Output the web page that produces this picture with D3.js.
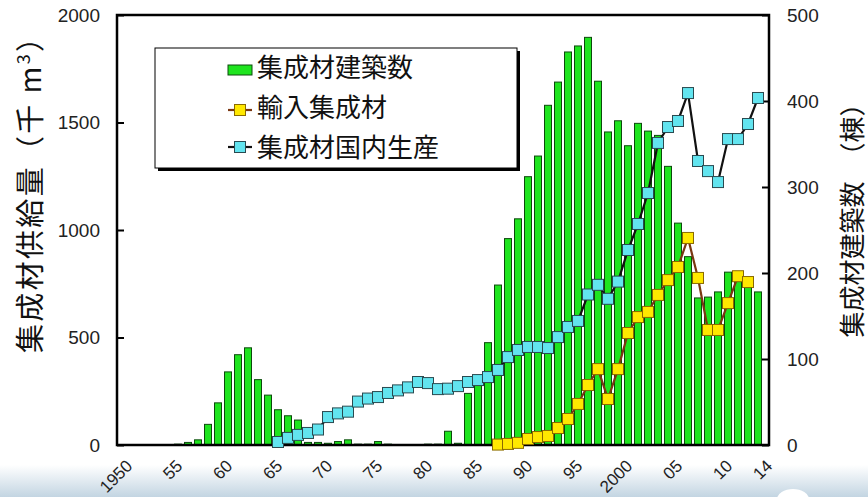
<!DOCTYPE html>
<html>
<head>
<meta charset="utf-8">
<script src="https://cdn.jsdelivr.net/npm/d3@7/dist/d3.min.js"></script>
<style>
  body { margin: 0; background: #fff; }
  svg { display: block; }
</style>
</head>
<body>
<script>
// data =======================================

var years = [1950, 1951, 1952, 1953, 1954, 1955, 1956, 1957, 1958, 1959,
             1960, 1961, 1962, 1963, 1964, 1965, 1966, 1967, 1968, 1969,
             1970, 1971, 1972, 1973, 1974, 1975, 1976, 1977, 1978, 1979,
             1980, 1981, 1982, 1983, 1984, 1985, 1986, 1987, 1988, 1989,
             1990, 1991, 1992, 1993, 1994, 1995, 1996, 1997, 1998, 1999,
             2000, 2001, 2002, 2003, 2004, 2005, 2006, 2007, 2008, 2009,
             2010, 2011, 2012, 2013];

// 集成材建築数 (棟) - right axis
var buildings = [0, 0, 0, 0, 0, 1, 3, 6, 24, 49,
                 85, 105, 113, 76, 58, 41, 34, 29, 3, 3,
                 2, 4, 6, 1, 1, 4, 1, 0, 0, 0,
                 1, 1, 16, 2, 60, 72, 119, 186, 240, 263,
                 312, 336, 395, 422, 457, 464, 474, 423, 364, 377,
                 348, 374, 365, 360, 324, 258, 219, 171, 172, 178,
                 201, 200, 188, 178];

// 輸入集成材 (千m3) - left axis
var imported = [null, null, null, null, null, null, null, null, null, null,
                null, null, null, null, null, null, null, null, null, null,
                null, null, null, null, null, null, null, null, null, null,
                null, null, null, null, null, null, null, 2, 5, 10,
                28, 37, 42, 79, 121, 191, 279, 353, 214, 353,
                521, 595, 619, 698, 767, 828, 963, 777, 535, 535,
                660, 785, 758, null];

// 集成材国内生産 (千m3) - left axis
var domestic = [null, null, null, null, null, null, null, null, null, null,
                null, null, null, null, null, 14, 33, 47, 56, 72,
                130, 147, 155, 202, 216, 223, 242, 254, 268, 293,
                288, 260, 262, 274, 293, 302, 316, 349, 409, 442,
                456, 456, 451, 502, 549, 577, 700, 745, 680, 760,
                907, 1028, 1172, 1405, 1479, 1507, 1637, 1321, 1274, 1223,
                1423, 1423, 1493, 1614];

var xTickYears  = [1950, 1955, 1960, 1965, 1970, 1975, 1980, 1985, 1990, 1995, 2000, 2005, 2010, 2014];
var xTickLabels = ["1950", "55", "60", "65", "70", "75", "80", "85", "90", "95", "2000", "05", "10", "14"];
var leftTicks  = [0, 500, 1000, 1500, 2000];
var rightTicks = [0, 100, 200, 300, 400, 500];

var legendNames = ["集成材建築数", "輸入集成材", "集成材国内生産"];

// SETUP =====================================

var w = 868;
var h = 497;
var plotL = 117, plotR = 769, plotT = 15, plotB = 445;
var numFont = "'Liberation Sans', Arial, sans-serif";
var jpFont = "'Noto Sans CJK JP', 'Noto Sans CJK SC', sans-serif";

var svg = d3.select("body")
            .append("svg")
            .attr("width", w)
            .attr("height", h);

var x = d3.scaleLinear().domain([1949, 2014.2]).range([plotL + 1, plotR + 1]);
var yLeft = d3.scaleLinear().domain([0, 2000]).range([plotB, plotT]);
var yRight = d3.scaleLinear().domain([0, 500]).range([plotB, plotT]);

// slide background strip at the bottom
var grad = svg.append("defs").append("linearGradient")
    .attr("id", "strip")
    .attr("x1", 0).attr("y1", 0).attr("x2", 0).attr("y2", 1);
grad.append("stop").attr("offset", "0%").attr("stop-color", "#ffffff");
grad.append("stop").attr("offset", "100%").attr("stop-color", "#c3d5e2");
svg.append("rect")
    .attr("x", 0).attr("y", 465)
    .attr("width", w).attr("height", h - 465)
    .attr("fill", "url(#strip)");
svg.append("ellipse")
    .attr("cx", 793).attr("cy", 499)
    .attr("rx", 16).attr("ry", 10)
    .attr("fill", "#fff");

// DRAWING =====================================

// bars
svg.append("g").selectAll("rect")
    .data(years)
    .enter().append("rect")
        .attr("x", function(d) { return x(d) - 3.5; })
        .attr("y", function(d, i) { return yRight(buildings[i]); })
        .attr("width", 7)
        .attr("height", function(d, i) { return plotB - yRight(buildings[i]); })
        .attr("fill", "#1ee41e")
        .attr("stroke", "#0c4a0c")
        .attr("stroke-width", 1);

// frame
svg.append("rect")
    .attr("x", plotL).attr("y", plotT)
    .attr("width", plotR - plotL).attr("height", plotB - plotT)
    .attr("fill", "none")
    .attr("stroke", "#000")
    .attr("stroke-width", 2.5);

// axes
var axisL = svg.append("g")
    .attr("transform", "translate(" + plotL + ",0)")
    .call(d3.axisLeft(yLeft).tickValues(leftTicks).tickSize(-7).tickPadding(17)
        .tickFormat(d3.format("d")));
var axisR = svg.append("g")
    .attr("transform", "translate(" + plotR + ",0)")
    .call(d3.axisRight(yRight).tickValues(rightTicks).tickSize(-7).tickPadding(18)
        .tickFormat(d3.format("d")));
var axisB = svg.append("g")
    .attr("transform", "translate(0," + plotB + ")")
    .call(d3.axisBottom(x).tickValues(xTickYears).tickSize(0)
        .tickFormat(function(d, i) { return xTickLabels[i]; }));

[axisL, axisR, axisB].forEach(function(a) {
    a.select(".domain").remove();
    a.selectAll("line").attr("stroke", "#000").attr("stroke-width", 2);
    a.selectAll("text")
        .attr("font-family", numFont)
        .attr("fill", "#222");
});
axisL.selectAll("text").attr("font-size", "19px");
axisR.selectAll("text").attr("font-size", "19px");
axisB.selectAll("text")
    .attr("font-size", "17px")
    .attr("text-anchor", "end")
    .attr("x", 0).attr("y", 0).attr("dy", 0)
    .attr("transform", "translate(5,22) rotate(-45)");

// lines
function drawSeries(values, lineColor, fill, markStroke) {
    var pts = years.map(function(d, i) { return {year: d, v: values[i]}; })
                   .filter(function(p) { return p.v !== null; });
    var line = d3.line()
        .x(function(p) { return x(p.year); })
        .y(function(p) { return yLeft(p.v); });
    svg.append("path")
        .datum(pts)
        .attr("d", line)
        .attr("fill", "none")
        .attr("stroke", lineColor)
        .attr("stroke-width", 2.2);
    svg.append("g").selectAll("rect")
        .data(pts)
        .enter().append("rect")
            .attr("x", function(p) { return x(p.year) - 5.5; })
            .attr("y", function(p) { return yLeft(p.v) - 5.5; })
            .attr("width", 11)
            .attr("height", 11)
            .attr("fill", fill)
            .attr("stroke", markStroke)
            .attr("stroke-width", 1);
}
drawSeries(imported, "#7a3812", "#ffe800", "#8a6a00");
drawSeries(domestic, "#111", "#62e4ef", "#2a4a50");

// legend
var lg = svg.append("g");
lg.append("rect")
    .attr("x", 158).attr("y", 51)
    .attr("width", 362).attr("height", 120)
    .attr("fill", "#000");
lg.append("rect")
    .attr("x", 155).attr("y", 48)
    .attr("width", 362).attr("height", 120)
    .attr("fill", "#fff")
    .attr("stroke", "#000")
    .attr("stroke-width", 1);

lg.append("rect")
    .attr("x", 228).attr("y", 65)
    .attr("width", 24).attr("height", 10)
    .attr("fill", "#1ee41e")
    .attr("stroke", "#0c4a0c");

var legendLines = [
    {y: 110, line: "#7a3812", fill: "#ffe800", stroke: "#8a6a00"},
    {y: 147, line: "#111", fill: "#62e4ef", stroke: "#2a4a50"}
];
legendLines.forEach(function(d) {
    lg.append("line")
        .attr("x1", 228).attr("x2", 252)
        .attr("y1", d.y).attr("y2", d.y)
        .attr("stroke", d.line)
        .attr("stroke-width", 2.2);
    lg.append("rect")
        .attr("x", 234.5).attr("y", d.y - 5.5)
        .attr("width", 11).attr("height", 11)
        .attr("fill", d.fill)
        .attr("stroke", d.stroke);
});

lg.selectAll("text")
    .data(legendNames)
    .enter().append("text")
        .text(function(d) { return d; })
        .attr("x", 257)
        .attr("y", function(d, i) { return 77 + i * 40; })
        .attr("font-family", jpFont)
        .attr("font-size", "26px")
        .attr("fill", "#111");

// axis titles
var tl = svg.append("text")
    .attr("transform", "translate(41,188) rotate(-90)")
    .attr("text-anchor", "middle")
    .attr("font-family", jpFont)
    .attr("font-size", "29px")
    .attr("textLength", 330)
    .attr("lengthAdjust", "spacing")
    .attr("fill", "#111");
tl.append("tspan").text("集成材供給量（千 m");
tl.append("tspan").text("3").attr("font-size", "18px").attr("dy", "-11");
tl.append("tspan").text("）").attr("dy", "11");

svg.append("text")
    .attr("transform", "translate(862,214) rotate(-90)")
    .attr("text-anchor", "middle")
    .attr("font-family", jpFont)
    .attr("font-size", "26px")
    .attr("fill", "#111")
    .text("集成材建築数　（棟）");
</script>
</body>
</html>
